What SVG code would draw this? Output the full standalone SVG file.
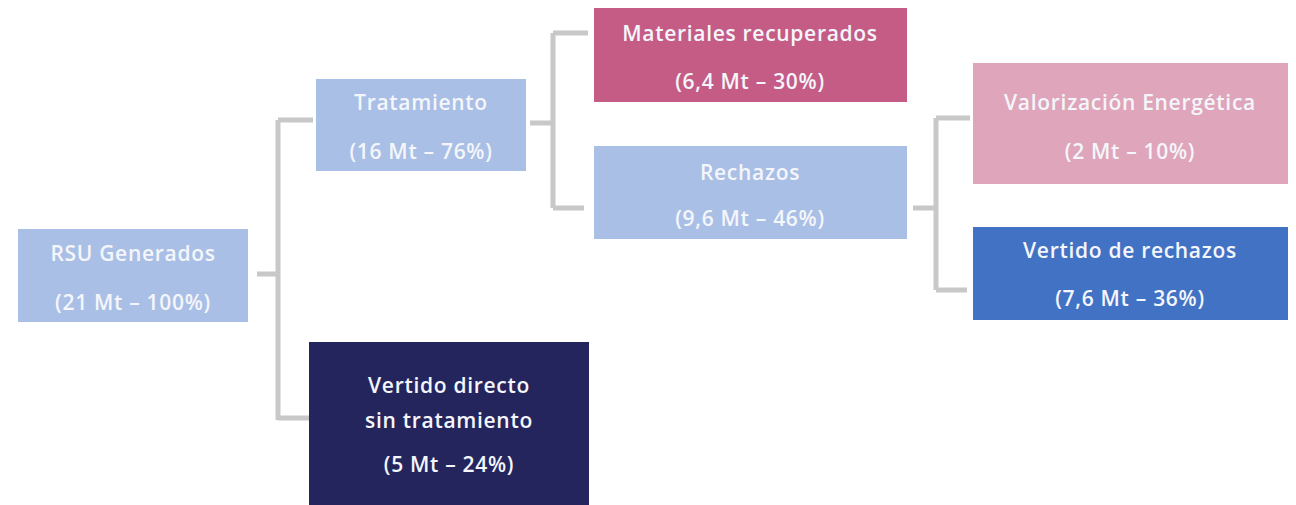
<svg xmlns="http://www.w3.org/2000/svg" width="1296" height="505" viewBox="0 0 1296 505">
<style>
.t{font-family:"Open Sans","Liberation Sans",sans-serif;font-size:21px;font-weight:600;fill:#f4f6fb;text-anchor:middle;dominant-baseline:central;letter-spacing:0.7px}
.c{fill:none;stroke:#c8c8c8;stroke-width:5}
.lb{fill:#aabfe5}
</style>
<rect width="1296" height="505" fill="#ffffff"/>
<g id="connectors">
<path class="c" d="M257,274 H278 M278,120 V420 M278,120 H313 M278,418 H309"/>
<path class="c" d="M530,123 H553 M553,33 V208 M553,33 H588 M553,208 H584"/>
<path class="c" d="M913,208 H936 M936,118 V290 M936,118 H970 M936,290 H967"/>
</g>
<g id="rsu">
<rect class="lb" x="18" y="229" width="230" height="93"/>
<text class="t" x="133" y="253">RSU Generados</text>
<text class="t" x="133" y="302">(21 Mt – 100%)</text>
</g>
<g id="tratamiento">
<rect class="lb" x="316" y="79" width="210" height="92"/>
<text class="t" x="421" y="102">Tratamiento</text>
<text class="t" x="421" y="151">(16 Mt – 76%)</text>
</g>
<g id="vertido-directo">
<rect x="309" y="342" width="280" height="163" fill="#25255e"/>
<text class="t" x="449" y="385">Vertido directo</text>
<text class="t" x="449" y="420">sin tratamiento</text>
<text class="t" x="449" y="464">(5 Mt – 24%)</text>
</g>
<g id="materiales">
<rect x="594" y="8" width="313" height="94" fill="#c55c86"/>
<text class="t" x="750" y="33">Materiales recuperados</text>
<text class="t" x="750" y="81">(6,4 Mt – 30%)</text>
</g>
<g id="rechazos">
<rect class="lb" x="594" y="146" width="313" height="93"/>
<text class="t" x="750" y="172">Rechazos</text>
<text class="t" x="750" y="218">(9,6 Mt – 46%)</text>
</g>
<g id="valorizacion">
<rect x="973" y="63" width="315" height="121" fill="#dfa5ba"/>
<text class="t" x="1130" y="102">Valorización Energética</text>
<text class="t" x="1130" y="151">(2 Mt – 10%)</text>
</g>
<g id="vertido-rechazos">
<rect x="973" y="227" width="315" height="93" fill="#4272c4"/>
<text class="t" x="1130" y="250">Vertido de rechazos</text>
<text class="t" x="1130" y="298">(7,6 Mt – 36%)</text>
</g>
</svg>
